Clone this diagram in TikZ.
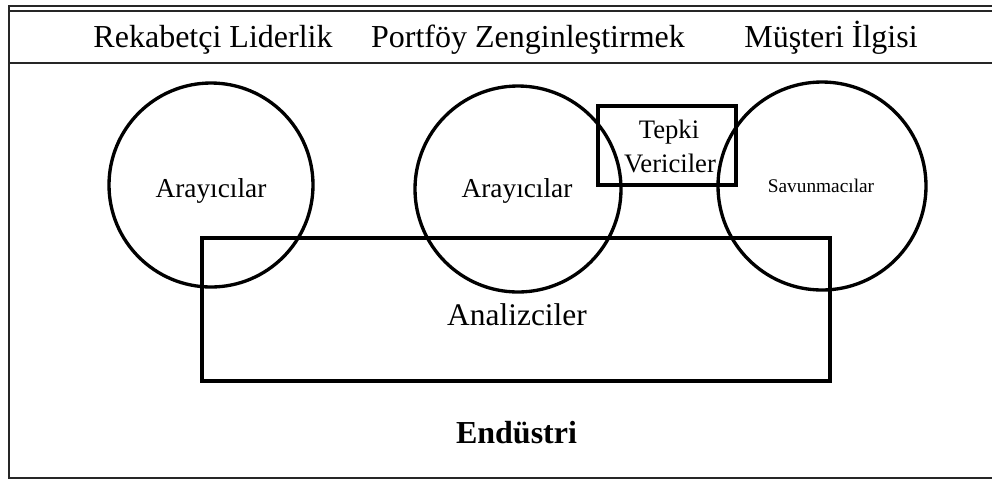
\documentclass[tikz,border=0pt]{standalone}
\usepackage{fontspec}
\setmainfont{Liberation Serif}
\begin{document}
\begin{tikzpicture}[x=0.75pt,y=-0.75pt,
  frameline/.style={line width=1.5pt, draw=black!85},
  ring/.style={circle, draw, line width=2.5pt, inner sep=0pt, minimum size=#1*0.75pt},
  boxshape/.style={rectangle, draw, line width=2.8pt, inner sep=0pt},
  headtext/.style={anchor=base, font=\fontsize{24pt}{28pt}\selectfont},
  grouptext/.style={anchor=base, font=\fontsize{20.5pt}{24pt}\selectfont},
]
\useasboundingbox (0,0) rectangle (992,480);

% outer frame with double top rule and header separator
\coordinate (tl) at (8.5,5.5);
\coordinate (tr) at (992,5.5);
\coordinate (tl2) at (10,11);
\coordinate (tr2) at (992,11);
\coordinate (hl) at (8.5,62.5);
\coordinate (hr) at (992,62.5);
\coordinate (bl) at (8.5,478);
\coordinate (br) at (992,478);
\draw[frameline] (tr) -- (tl) -- (bl) -- (br);
\draw[frameline] (tl2) -- (tr2);
\draw[frameline] (hl) -- (hr);

% header labels
\node[headtext] (h1) at (213,47) {Rekabetçi Liderlik};
\node[headtext] (h2) at (528,47) {Portföy Zenginleştirmek};
\node[headtext] (h3) at (831,47) {Müşteri İlgisi};

% strategy circles
\node[ring=204] (c1) at (211,185) {};
\node[ring=206] (c2) at (518,189) {};
\node[ring=208] (c3) at (822,186) {};

\node[grouptext] (l1) at (211,197) {Arayıcılar};
\node[grouptext] (l2) at (517,197) {Arayıcılar};
\node[anchor=base, font=\fontsize{14.5pt}{17pt}\selectfont] (l3) at (821,192) {Savunmacılar};

% analyzers box
\node[boxshape, minimum width=471pt, minimum height=107.25pt] (an) at (516,309.5) {};
\node[anchor=base, font=\fontsize{23.6pt}{28pt}\selectfont] (anl) at (517,325) {Analizciler};

% reactors box
\node[boxshape, minimum width=103.5pt, minimum height=59.25pt] (tv) at (667,145.5) {};
\node[grouptext, font=\fontsize{20pt}{24pt}\selectfont] (tv1) at (669,138) {Tepki};
\node[grouptext, font=\fontsize{20pt}{24pt}\selectfont] (tv2) at (670,172) {Vericiler};

% industry label
\node[anchor=base, font=\fontsize{24pt}{28pt}\selectfont\bfseries] (ind) at (516.5,443) {Endüstri};
\end{tikzpicture}
\end{document}
